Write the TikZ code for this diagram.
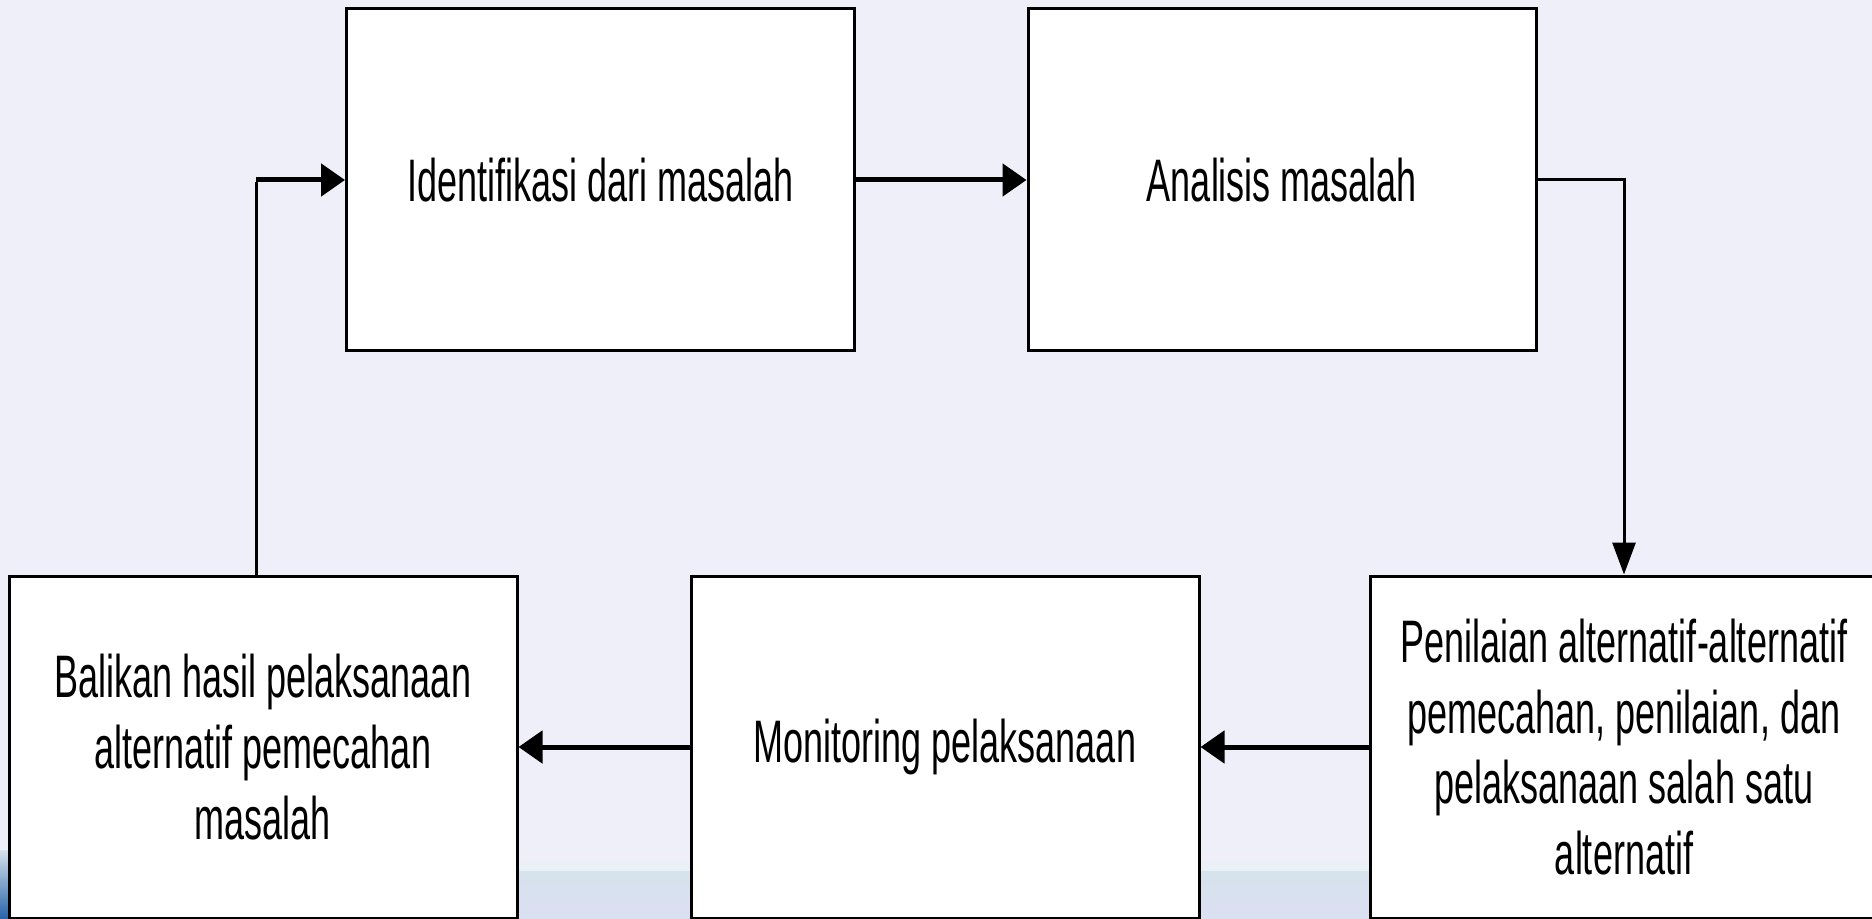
\documentclass[tikz,border=0pt]{standalone}
\usepackage{fontspec}
\setmainfont[FakeStretch=0.6, Ligatures=NoCommon]{Liberation Sans}
\usepackage{xcolor}
\usetikzlibrary{arrows.meta, positioning, calc}
\definecolor{slidebg}{RGB}{239,239,250}
\definecolor{bandlight}{RGB}{234,241,246}
\definecolor{bandtop}{RGB}{214,226,236}
\definecolor{bandlow}{RGB}{219,223,242}
\definecolor{cornerblue}{RGB}{38,98,168}

\begin{document}
\begin{tikzpicture}[x=0.5pt, y=-0.5pt,
    box/.style={rectangle, draw, line width=1.5pt, fill=white, minimum width=254pt,
        minimum height=171pt, inner sep=0pt, align=center,
        font=\fontsize{30pt}{35.3pt}\selectfont},
    flow/.style={line width=2.5pt, -{Triangle[length=12pt, width=16pt]}},
    drop/.style={line width=1.5pt, -{Triangle[length=16pt, width=11.5pt]}},
    link/.style={line width=1.5pt}]
    % slide background
    \clip (0,0) rectangle (1872,919);
    \fill[slidebg] (0,0) rectangle (1872,919);
    \fill[bandlight] (0,862) rectangle (1872,871);
    \shade[top color=bandtop, bottom color=bandlow] (0,871) rectangle (1872,919);
    \shade[top color=bandtop, bottom color=cornerblue] (0,850) rectangle (8,919);

    \node[box] (ident) at (600.5,180) {Identifikasi dari masalah};
    \node[box] (analisis) at (1282,180) {Analisis masalah};
    \node[box] (penilaian) at (1624,747) {Penilaian alternatif-alternatif\\pemecahan, penilaian, dan\\pelaksanaan salah satu\\alternatif};
    \node[box] (monitoring) at (945,747) {Monitoring pelaksanaan};
    \node[box] (balikan) at (263,747) {Balikan hasil pelaksanaan\\alternatif pemecahan\\masalah};

    \draw[flow] (ident) -- (analisis);
    \draw[drop] (analisis.east) -| (penilaian.north);
    \draw[flow] (penilaian) -- (monitoring);
    \draw[flow] (monitoring) -- (balikan);
    % feedback loop
    \coordinate (turn) at ([xshift=-3.5pt]balikan.north |- ident.west);
    \draw[link] ([xshift=-3.5pt]balikan.north) -- ([yshift=-1.25pt]turn);
    \draw[flow] (turn) -- (ident.west);
\end{tikzpicture}
\end{document}
